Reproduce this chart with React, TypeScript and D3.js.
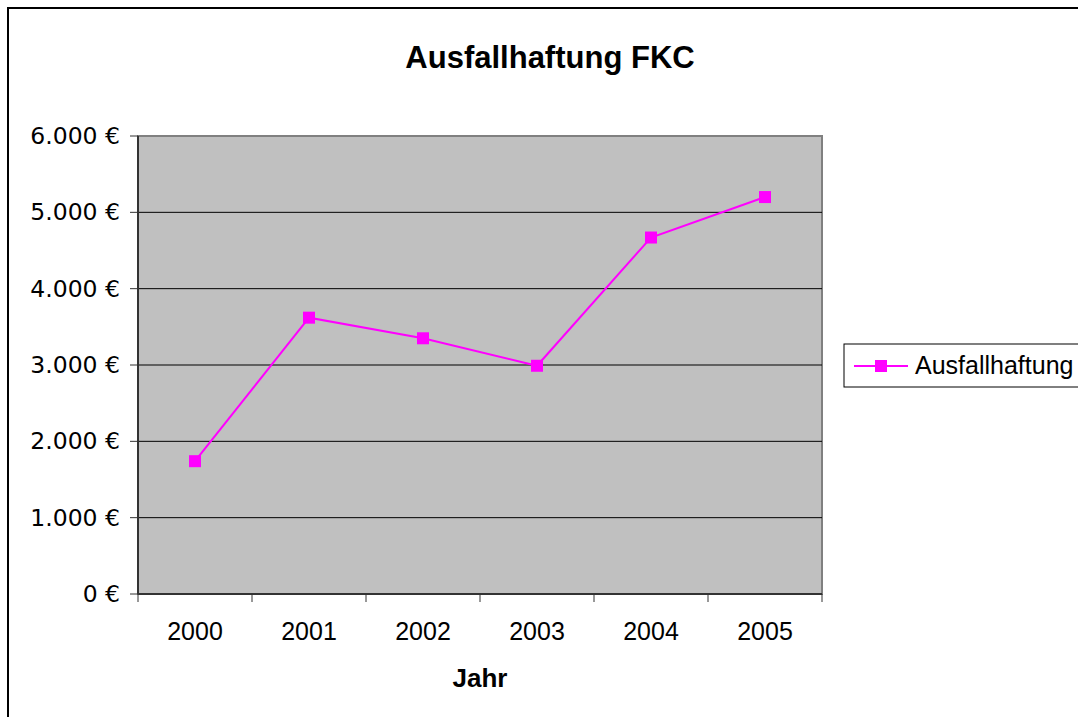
import React from "react";
import * as d3 from "d3";

const years = ["2000", "2001", "2002", "2003", "2004", "2005"];
const values = [1740, 3620, 3350, 2990, 4670, 5200];
const yTicks = [0, 1000, 2000, 3000, 4000, 5000, 6000];
const seriesName = "Ausfallhaftung";
const title = "Ausfallhaftung FKC";
const xTitle = "Jahr";

export default function App() {
  const W = 1078, H = 717;
  const left = 138, right = 822, top = 136, bottom = 594;
  const x = d3.scaleBand<string>().domain(years).range([left, right]);
  const y = d3.scaleLinear().domain([0, 6000]).range([bottom, top]);
  const fmt = (v: number) => d3.format(",")(v).replace(/,/g, ".") + " €";
  const cx = (d: string) => (x(d) as number) + x.bandwidth() / 2;
  const line = d3.line<number>().x((_, i) => cx(years[i])).y((v) => y(v));
  const font = "'Liberation Sans', Arial, sans-serif";
  const color = "#FF00FF";
  const ms = 12;
  const boundaries = years.map((d) => x(d) as number).concat([right]);
  return (
    <svg width={W} height={H} style={{ position: "absolute", left: 0, top: 0 }} fontFamily={font}>
      <rect x={0} y={0} width={W} height={H} fill="#fff" />
      <rect x={8} y={8} width={W + 10} height={H + 10} fill="none" stroke="#000" strokeWidth={2} />
      <text x={550} y={68} textAnchor="middle" fontSize={31} fontWeight="bold">{title}</text>
      <rect x={left} y={top} width={right - left} height={bottom - top} fill="#C0C0C0" stroke="#808080" strokeWidth={2} />
      {yTicks.filter((t) => t > 0 && t < 6000).map((t) => (
        <line key={t} x1={left} x2={right} y1={y(t)} y2={y(t)} stroke="#000" strokeWidth={1} />
      ))}
      <line x1={left} x2={left} y1={top} y2={bottom} stroke="#333" strokeWidth={2} />
      <line x1={left} x2={right} y1={bottom} y2={bottom} stroke="#333" strokeWidth={2} />
      {yTicks.map((t) => (
        <g key={t}>
          <line x1={left - 8} x2={left} y1={y(t)} y2={y(t)} stroke="#333" strokeWidth={1} />
          <text x={120} y={y(t) + 8} textAnchor="end" fontSize={23.5} fontFamily="'DejaVu Sans', Verdana, sans-serif">{fmt(t)}</text>
        </g>
      ))}
      {boundaries.map((b, i) => (
        <line key={i} x1={b} x2={b} y1={bottom} y2={bottom + 8} stroke="#333" strokeWidth={1} />
      ))}
      {years.map((d) => (
        <text key={d} x={cx(d)} y={640} textAnchor="middle" fontSize={25}>{d}</text>
      ))}
      <text x={480} y={687} textAnchor="middle" fontSize={26} fontWeight="bold">{xTitle}</text>
      <path d={line(values) || ""} fill="none" stroke={color} strokeWidth={2} />
      {values.map((v, i) => (
        <rect key={i} x={cx(years[i]) - ms / 2} y={y(v) - ms / 2} width={ms} height={ms} fill={color} />
      ))}
      <rect x={844} y={344} width={250} height={43} fill="#fff" stroke="#000" strokeWidth={1} />
      <line x1={854} x2={908} y1={366} y2={366} stroke={color} strokeWidth={2} />
      <rect x={881 - ms / 2} y={366 - ms / 2} width={ms} height={ms} fill={color} />
      <text x={915} y={374} fontSize={25}>{seriesName}</text>
    </svg>
  );
}
